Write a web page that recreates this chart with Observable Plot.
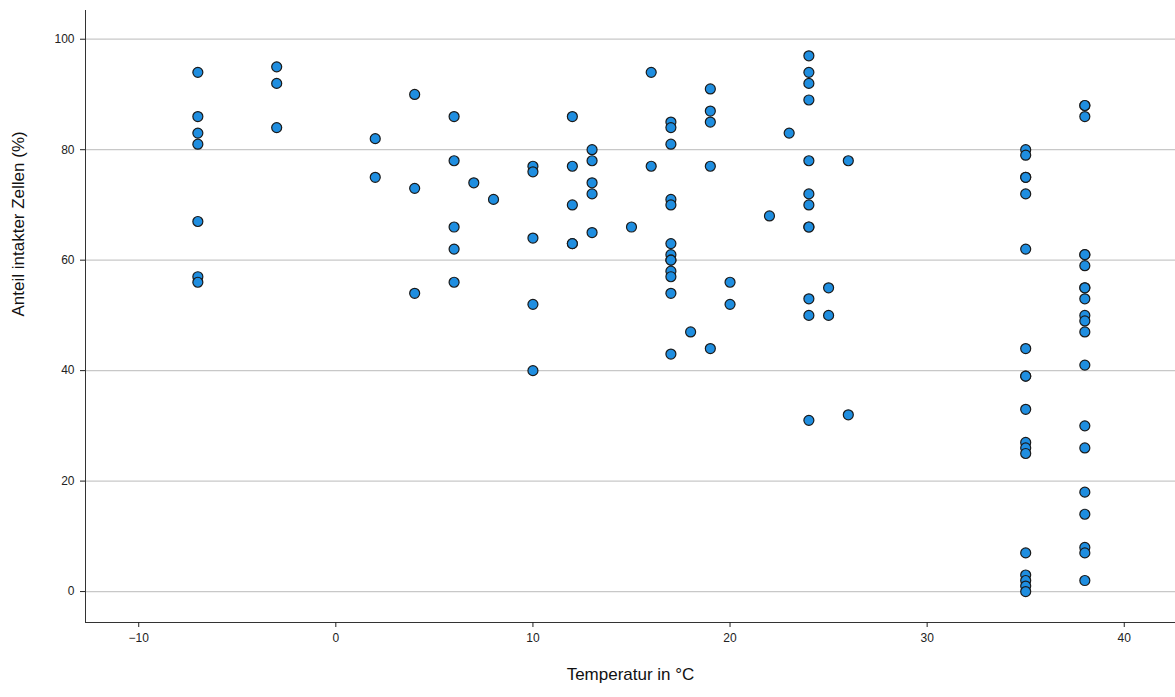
<!DOCTYPE html>
<html><head><meta charset="utf-8">
<script src="https://cdn.jsdelivr.net/npm/d3@7"></script>
<script src="https://cdn.jsdelivr.net/npm/@observablehq/plot@0.6"></script>
<style>body{margin:0;background:#fff}</style>
</head><body><div id="chart"></div>
<script>
// Temperatur -> Anteil intakter Zellen (%)
const temps = [-7, -3, 2, 4, 6, 7, 8, 10, 12, 13, 15, 16, 17, 18, 19, 20, 22, 23, 24, 25, 26, 35, 38]
const werte = [
  [94, 86, 83, 81, 67, 57, 56],
  [95, 92, 84],
  [82, 75],
  [90, 73, 54],
  [86, 78, 66, 62, 56],
  [74],
  [71],
  [77, 76, 64, 52, 40],
  [86, 77, 70, 63, 63],
  [80, 78, 74, 72, 65],
  [66],
  [94, 77],
  [85, 84, 81, 71, 70, 63, 61, 60, 60, 58, 57, 54, 43],
  [47],
  [91, 87, 85, 77, 44],
  [56, 52],
  [68],
  [83],
  [97, 94, 92, 89, 78, 72, 70, 66, 66, 53, 50, 31],
  [55, 50],
  [78, 32],
  [80, 79, 75, 75, 72, 62, 44, 39, 39, 33, 27, 26, 25, 7, 3, 2, 1, 0],
  [88, 88, 86, 61, 61, 59, 55, 55, 53, 50, 49, 47, 41, 30, 26, 18, 14, 8, 7, 2]
]
const xTicks = [-10, 0, 10, 20, 30, 40]
const yTicks = [0, 20, 40, 60, 80, 100]

let data = temps.flatMap((t, i) => werte[i].map(v => ({temp: t, anteil: v})))

let chart = Plot.plot({
  width: 1175,
  height: 697,
  marginLeft: 85,
  marginRight: 0,
  marginTop: 10,
  marginBottom: 75,
  style: {fontFamily: "Arial, 'Liberation Sans', sans-serif", fontSize: "12px", color: "#222"},
  x: {domain: [-12.7, 42.6], ticks: xTicks, label: null, tickSize: 5},
  y: {domain: [-5.6, 105.2], ticks: yTicks, label: null, tickSize: 5},
  marks: [
    Plot.gridY(yTicks, {stroke: "#c8c8c8", strokeOpacity: 1, strokeWidth: 1.3}),
    Plot.ruleX([-12.7], {stroke: "#333"}),
    Plot.ruleY([-5.6], {stroke: "#333"}),
    Plot.axisX({ticks: xTicks, tickSize: 5, tickPadding: 6, fontSize: 12}),
    Plot.axisY({ticks: yTicks, tickSize: 5, tickPadding: 6, fontSize: 12}),
    Plot.dot(data, {x: "temp", y: "anteil", r: 5, fill: "#1f8ee0", stroke: "#1a1a1a", strokeWidth: 1.2}),
    Plot.text(["Temperatur in °C"], {frameAnchor: "bottom", dy: 57, fontSize: 17, fill: "#111"}),
    Plot.text(["Anteil intakter Zellen (%)"], {frameAnchor: "left", dx: -67, rotate: -90, fontSize: 17, fill: "#111"})
  ]
})
d3.select('#chart').append(() => chart)
</script>
</body></html>
